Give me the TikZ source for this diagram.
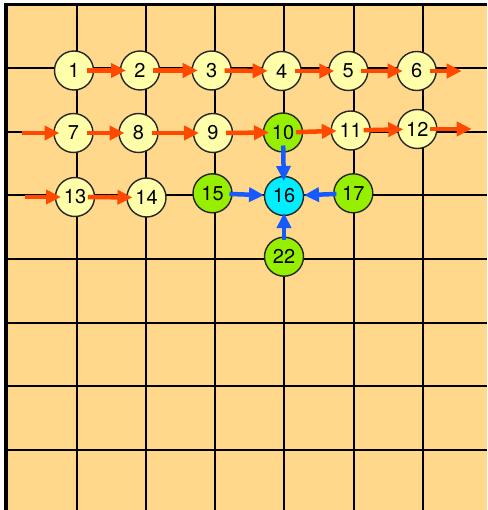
\documentclass[tikz,border=0pt]{standalone}
\usepackage{fontspec}
\setmainfont{TeX Gyre Heros}
\usetikzlibrary{arrows.meta}
\definecolor{bg}{RGB}{255,216,140}
\definecolor{paley}{RGB}{255,255,170}
\definecolor{lime}{RGB}{150,238,0}
\definecolor{cyanc}{RGB}{0,238,255}
\definecolor{orng}{RGB}{255,72,0}
\definecolor{blu}{RGB}{20,90,255}
\tikzset{
  gridline/.style={line width=2pt, black},
  border/.style={line width=3.5pt, black},
  cell/.style={circle, draw=black!85, line width=1.4pt, minimum size=39pt, inner sep=0pt,
    font=\fontsize{20}{20}\selectfont},
  pale/.style={cell, fill=paley},
  grn/.style={cell, fill=lime},
  cyn/.style={cell, fill=cyanc},
  oarrow/.style={draw=orng, line width=4.5pt, -{Triangle[length=15pt,width=14pt]}, shorten <=13pt, shorten >=14pt},
  barrow/.style={draw=blu, line width=4.5pt, -{Triangle[length=15pt,width=14pt]}, shorten <=13pt, shorten >=15pt}
}
\begin{document}
\begin{tikzpicture}[x=1pt,y=-1pt]
\useasboundingbox (0,0) rectangle (487,510);
\fill[white] (0,0) rectangle (487,510);
\fill[bg] (6,4.5) rectangle (487,510);
\foreach \x in {76.7,145.9,215.1,284.3,353.5,422.7} \draw[gridline] (\x,4.5) -- (\x,510);
\foreach \y in {68.5,132,195.5,259,322.5,386,449.5} \draw[gridline] (6,\y) -- (487,\y);
\draw[border] (487,4.5) -- (6,4.5) -- (6,510);

\node[pale] (n1) at (74,70.5) {1};
\node[pale] (n2) at (140,70.5) {2};
\node[pale] (n3) at (211.7,70.5) {3};
\node[pale] (n4) at (281.7,71) {4};
\node[pale] (n5) at (348.3,71) {5};
\node[pale] (n6) at (416.7,71) {6};
\node[pale] (n7) at (73.5,133) {7};
\node[pale] (n8) at (138.5,133) {8};
\node[pale] (n9) at (213,133) {9};
\node[grn]  (n10) at (283,132.5) {10};
\node[pale] (n11) at (350.7,130.5) {11};
\node[pale] (n12) at (417.3,129) {12};
\node[pale] (n13) at (75,197) {13};
\node[pale] (n14) at (146.5,197.5) {14};
\node[grn]  (n15) at (212.5,193.3) {15};
\node[cyn]  (n16) at (284,196) {16};
\node[grn]  (n17) at (353.3,193.3) {17};
\node[grn]  (n22) at (284,256.7) {22};

\coordinate (e6) at (461.7,71);
\coordinate (e12) at (471.7,129);
\coordinate (s7) at (22,133);
\coordinate (s13) at (25,197);

\draw[oarrow] (n1.center) -- (n2.center);
\draw[oarrow] (n2.center) -- (n3.center);
\draw[oarrow] (n3.center) -- (n4.center);
\draw[oarrow] (n4.center) -- (n5.center);
\draw[oarrow] (n5.center) -- (n6.center);
\draw[oarrow, shorten >=0pt] (n6.center) -- (e6);
\draw[oarrow, shorten <=0pt] (s7) -- (n7.center);
\draw[oarrow] (n7.center) -- (n8.center);
\draw[oarrow] (n8.center) -- (n9.center);
\draw[oarrow] (n9.center) -- (n10.center);
\draw[oarrow] (n10.center) -- (n11.center);
\draw[oarrow] (n11.center) -- (n12.center);
\draw[oarrow, shorten >=0pt] (n12.center) -- (e12);
\draw[oarrow, shorten <=0pt] (s13) -- (n13.center);
\draw[oarrow] (n13.center) -- (n14.center);

\draw[barrow] (n10.center) -- (n16.center);
\draw[barrow, shorten <=17pt, shorten >=20pt] (n15.center) -- (n16.center);
\draw[barrow, shorten <=17pt, shorten >=20pt] (n17.center) -- (n16.center);
\draw[barrow, shorten <=17pt, shorten >=17pt] (n22.center) -- (n16.center);
\end{tikzpicture}
\end{document}
